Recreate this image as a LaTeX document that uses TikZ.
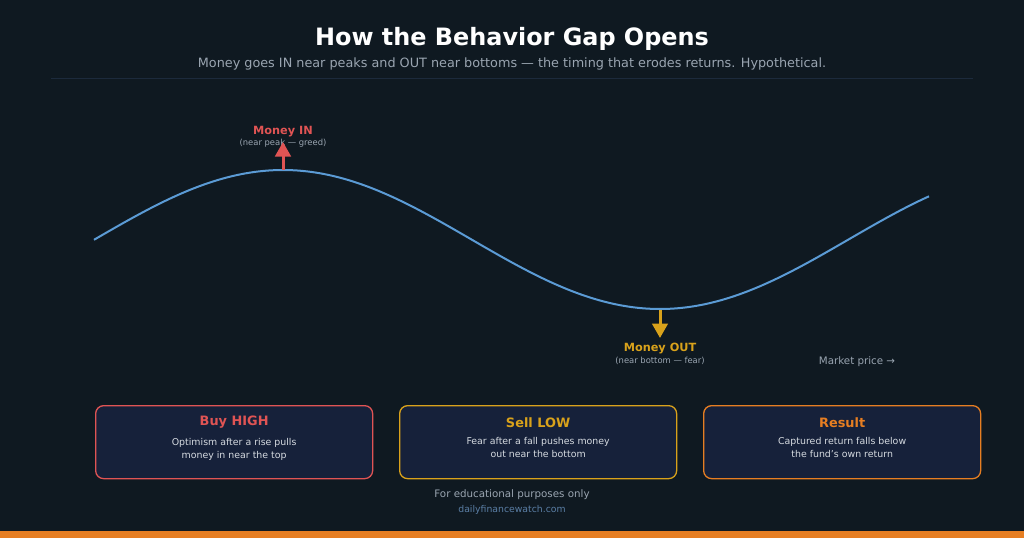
\documentclass[tikz,border=0pt]{standalone}
\usepackage{fontspec}
\setmainfont{DejaVu Sans}
\usetikzlibrary{positioning,arrows.meta}
\definecolor{bgdark}{HTML}{0F1921}
\definecolor{boxfill}{HTML}{16213A}
\definecolor{rulecol}{HTML}{1C2A3C}
\definecolor{curveblue}{HTML}{5B9BD5}
\definecolor{inred}{HTML}{E05454}
\definecolor{outgold}{HTML}{D9A21B}
\definecolor{resorange}{HTML}{E67E22}
\definecolor{softtext}{HTML}{D5DAE0}
\definecolor{greytext}{HTML}{9AA5B1}
\definecolor{urlblue}{HTML}{5B7FA6}
\newcommand{\fsz}[1]{\fontsize{#1}{#1}\selectfont}
\begin{document}
\begin{tikzpicture}[x=1pt, y=-1pt,
    every node/.style={inner sep=0pt, align=center},
    flowarrow/.style={line width=3pt, -{Triangle[length=14.5pt, width=15.5pt]}},
    cardbox/.style={draw, line width=1.3pt, rounded corners=8pt, fill=boxfill,
                    minimum width=277pt, minimum height=73pt, anchor=north west},
    cardhead/.style={font=\bfseries\fsz{12.9}},
    cardtext/.style={font=\fsz{9.4}, text=softtext},
    tagline/.style={font=\bfseries\fsz{11.3}},
    tagnote/.style={font=\fsz{8.4}, text=greytext}]

% background and frame
\fill[bgdark] (0,0) rectangle (1024,538);
\useasboundingbox (0,0) rectangle (1024,538);
\fill[resorange] (0,531) rectangle (1024,538);

\node[font=\bfseries\fsz{23.9}, text=white] (title) at (512,38.5) {How the Behavior Gap Opens};
\node[font=\fsz{12.8}, text=greytext] (subtitle) at (512,64) 
    {Money goes IN near peaks and OUT near bottoms — the timing that erodes returns. Hypothetical.};
\draw[rulecol, line width=1pt] (51,78) -- (973,78);

% market curve
\draw[curveblue, line width=2pt] plot[domain=94:929, samples=120, smooth]
    (\x, {239.5-69.5*sin((\x-94.5)/754*360)});
\coordinate (peak) at (283,170);
\coordinate (trough) at (660,309.5);

\node[tagnote] (innote) at (283,143.5) {(near peak — greed)};
\node[tagline, text=inred, above=2pt of innote] (inlabel) {Money IN};
\node[tagline, text=outgold] (outlabel) at (660,349) {Money OUT};
\node[tagnote, below=2.5pt of outlabel] (outnote) {(near bottom — fear)};
\node[font=\fsz{10.3}, text=greytext] (market) at (857,362) {Market price →};

\draw[flowarrow, inred] (peak) -- (283,142);
\draw[flowarrow, outgold] (trough) -- (660,338);

% three cards
\foreach \name/\xx/\col/\head/\body in {
    buy/95/inred/Buy HIGH/{Optimism after a rise pulls\\money in near the top},
    sell/399/outgold/Sell LOW/{Fear after a fall pushes money\\out near the bottom},
    result/703/resorange/Result/{Captured return falls below\\the fund's own return}}{
  \node[cardbox, draw=\col] (\name) at (\xx,405) {};
  \node[cardhead, text=\col] (\name head) at ([yshift=-17.5pt]\name.north) {\head};
  \node[cardtext, below=9.5pt of \name head, font=\fsz{9.4}\linespread{1.4}\selectfont] (\name text) {\body};
}

\node[font=\fsz{10.3}, text=greytext] (edu) at (512,495) {For educational purposes only};
\node[font=\fsz{9.3}, text=urlblue, below=5pt of edu] (site) {dailyfinancewatch.com};

\end{tikzpicture}
\end{document}
